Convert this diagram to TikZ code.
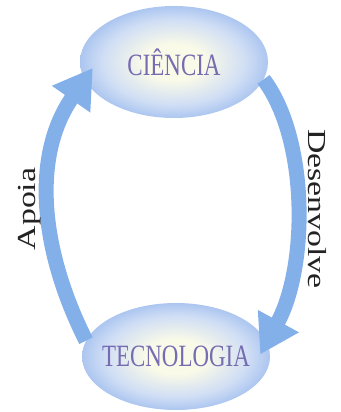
\documentclass[tikz,border=0pt]{standalone}
\usepackage{fontspec}
\setmainfont{Liberation Serif}
\usetikzlibrary{shapes.geometric,arrows.meta}

\definecolor{setaazul}{RGB}{132,176,234}
\definecolor{elipseborda}{RGB}{172,198,240}
\definecolor{elipsemeio}{RGB}{208,222,245}
\definecolor{elipsecentro}{RGB}{250,250,232}
\definecolor{rotulo}{RGB}{118,108,178}
\definecolor{lateral}{RGB}{35,35,35}

\pgfdeclareradialshading{brilho}{\pgfpoint{0bp}{0bp}}{color(0bp)=(elipsecentro); color(8bp)=(elipsecentro); color(19bp)=(elipsemeio); color(25bp)=(elipseborda); color(50bp)=(elipseborda)}

\tikzset{
  campo/.style={ellipse, shade, shading=brilho, inner ysep=0pt, inner xsep=-30pt, text=rotulo, font=\fontsize{31}{31}\selectfont},
  seta/.style={setaazul, line width=15pt, -{Triangle[width=44pt,length=38pt]}},
  verbo/.style={text=lateral, font=\fontsize{26}{26}\selectfont, anchor=base, inner sep=0pt}
}
\newcommand{\estreito}[1]{\scalebox{0.74}[1]{#1}}
\newcommand{\largo}[1]{\scalebox{1.3}[1]{#1}}

\begin{document}
\begin{tikzpicture}[x=1pt,y=1pt]
    \useasboundingbox (0,0) rectangle (340,412);

    % elipses
    \node[campo, minimum width=188pt, minimum height=112pt] (ciencia) at (174,350) {\estreito{CIÊNCIA}};
    \node[campo, minimum width=188pt, minimum height=107pt] (tecno) at (176,55.5) {\estreito{TECNOLOGIA}};

    % setas
    \draw[seta] (tecno.170) .. controls +(-45,89) and +(-62,-89) .. ([xshift=13pt,yshift=-6pt]ciencia.west);
    \draw[seta] (ciencia.-11) .. controls +(45,-60) and +(48,88) .. ([xshift=-10pt,yshift=2pt]tecno.east);

    % rotulos
    \node[verbo, rotate=90] (apoia) at (35,203) {\largo{Apoia}};
    \node[verbo, rotate=-90] (desenv) at (308,203) {\largo{Desenvolve}};
\end{tikzpicture}
\end{document}
